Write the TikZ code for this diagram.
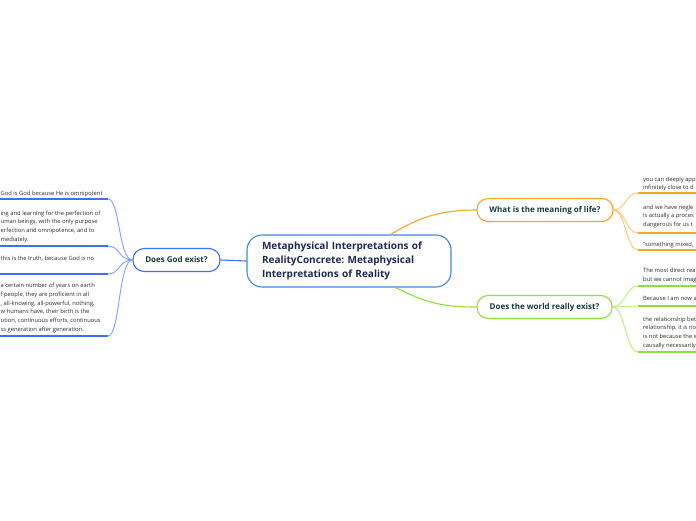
\documentclass[tikz,border=0pt]{standalone}
\usepackage{fontspec}
\setmainfont{Open Sans}
\frenchspacing
\usepackage{tikz}
\usetikzlibrary{positioning,calc}
\definecolor{rootline}{HTML}{3F8AD8}
\definecolor{roottext}{HTML}{1C2B55}
\definecolor{godblue}{HTML}{3F6FF2}
\definecolor{godtwig}{HTML}{7F9FF8}
\definecolor{lifeorange}{HTML}{F5A623}
\definecolor{lifetwig}{HTML}{FAC57A}
\definecolor{worldgreen}{HTML}{8BE13B}
\definecolor{worldtwig}{HTML}{B5EE7A}
\definecolor{topictext}{HTML}{173B3B}
\definecolor{leaftext}{HTML}{2A2A2A}
\tikzset{
  root/.style={draw=rootline,line width=1.1pt,fill=white,rounded corners=15pt,minimum width=204pt,minimum height=52pt,inner xsep=15pt,text width=174pt,align=left,font=\fontsize{10}{14}\selectfont\bfseries,text=roottext},
  topic/.style={draw=#1,line width=1.1pt,fill=white,rounded corners=11pt,minimum height=23pt,inner sep=0pt,align=center,font=\fontsize{8}{9}\selectfont\bfseries,text=topictext},
  leaf/.style={anchor=north west,inner sep=0pt,align=left,font=\fontsize{5.8}{8.7}\selectfont,text=leaftext},
  uline/.style={draw=#1,line width=1.8pt},
  twig/.style={draw=#1,line width=0.9pt},
  limb/.style={draw=#1,line width=1.1pt}
}

\begin{document}
\begin{tikzpicture}[x=1pt,y=-1pt]
    \useasboundingbox (0,0) rectangle (696,520);
    \clip (0,0) rectangle (696,520);

    \node[root] (root) at (349,261) {Metaphysical Interpretations of\\RealityConcrete: Metaphysical\\Interpretations of Reality};
    \node[topic=godblue,minimum width=87pt] (god) at (176.5,260) {Does God exist?};
    \node[topic=lifeorange,minimum width=136pt] (life) at (545,210) {What is the meaning of life?};
    \node[topic=worldgreen,minimum width=135pt] (world) at (544.5,307) {Does the world really exist?};

    \draw[limb=godblue] (root.west) -- (god.east);
    \draw[limb=lifeorange] ([xshift=-61pt]root.north east) .. controls +(30,-18) and +(-35,0) .. (life.west);
    \draw[limb=worldgreen] ([xshift=-56pt]root.south east) .. controls +(30,15) and +(-35,0) .. (world.west);

    \node[leaf] (g1) at (0.5,190.5) {God is God because He is omnipotent};
    \node[leaf] (g2) at (0.5,210.5) {ing and learning for the perfection of\\uman beings, with the only purpose\\erfection and omnipotence, and to\\mediately.};
    \node[leaf] (g3) at (0.5,256) {this is the truth, because God is no};
    \node[leaf] (g4) at (0.5,283) {a certain number of years on earth\\f people, they are proficient in all\\, all-knowing, all-powerful, nothing,\\w humans have, their birth is the\\ution, continuous efforts, continuous\\ss generation after generation.};

    \node[leaf] (l1) at (643,176.5) {you can deeply app\\infinitely close to d};
    \node[leaf] (l2) at (643,204.5) {and we have negle\\is actually a proces\\dangerous for us t};
    \node[leaf] (l3) at (643,241.5) {“something mixed,};

    \node[leaf] (w1) at (643,268) {The most direct rea\\but we cannot imag};
    \node[leaf] (w2) at (643,296.5) {Because I am now a};
    \node[leaf] (w3) at (643,316.5) {the relationship bet\\relationship, it is no\\is not because the w\\causally necessarily};

    \foreach \y in {199,246,274,336} {
        \draw[uline=godblue] (-4,\y) -- (108,\y) coordinate (gu\y);
        \draw[twig=godtwig] (god.west) .. controls +(-14,0) and +(12,0) .. (gu\y);
    }
    \foreach \y in {193,233,250} {
        \draw[uline=lifeorange] (700,\y) -- (638,\y) coordinate (lu\y);
        \draw[twig=lifetwig] (life.east) .. controls +(12,0) and +(-12,0) .. (lu\y);
    }
    \foreach \y in {286,306,352} {
        \draw[uline=worldgreen] (700,\y) -- (638,\y) coordinate (wu\y);
        \draw[twig=worldtwig] (world.east) .. controls +(12,0) and +(-12,0) .. (wu\y);
    }
\end{tikzpicture}
\end{document}
